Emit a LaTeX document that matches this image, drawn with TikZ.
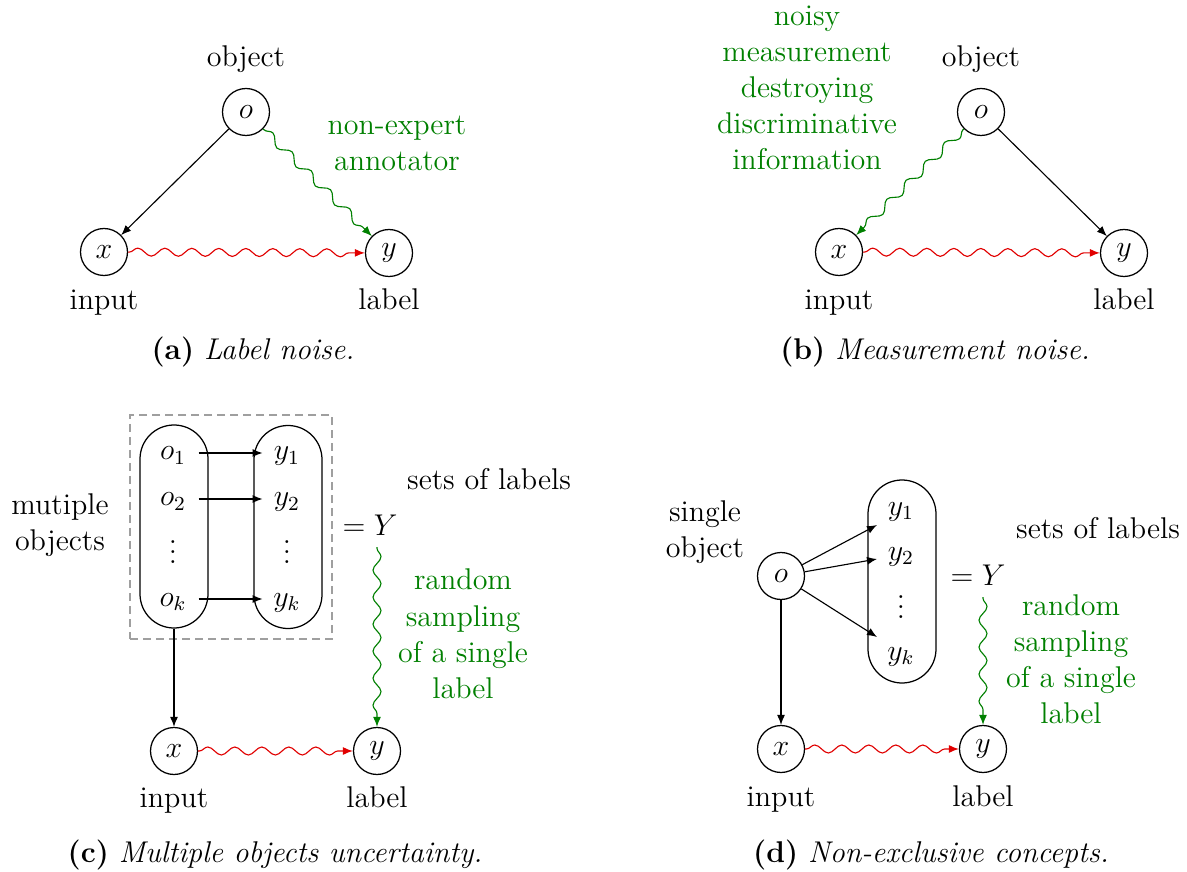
\documentclass[tikz,border=0pt]{standalone}
\usepackage{fontspec}
\usetikzlibrary{decorations.pathmorphing,arrows.meta}
\definecolor{dgreen}{RGB}{0,128,0}
\definecolor{dred}{RGB}{225,0,0}
\tikzset{
  base font/.style={font=\fontsize{12}{14.4}\selectfont},
  var/.style={circle,draw,minimum size=18.8pt,inner sep=0pt,line width=0.5pt,base font},
  txt/.style={base font,inner sep=0pt,anchor=base,align=center},
  gtxt/.style={txt,text=dgreen},
  tip/.style={-{Latex[length=4pt,width=3.2pt]}},
  arr/.style={tip,line width=0.45pt},
  wav/.style={tip,line width=0.45pt,decorate,decoration={snake,segment length=10.8pt,amplitude=1.6pt,pre length=0.5pt,post length=4.5pt}},
  rwav/.style={wav,draw=dred},
  gwav/.style={wav,draw=dgreen},
  rowtxt/.style={base font,inner sep=0pt,text height=8pt,text depth=2.4pt},
  capsule/.style={draw,line width=0.5pt,rounded corners=13.6pt,minimum width=27.2pt,minimum height=81.2pt,inner sep=0pt},
  groupbox/.style={draw=gray!75,dash pattern=on 3.2pt off 2pt,line width=0.5pt,minimum width=80.8pt,minimum height=89.6pt,inner sep=0pt}
}
\begin{document}
\begin{tikzpicture}[x=0.4pt,y=-0.4pt]
\useasboundingbox[fill=white] (0,0) rectangle (1187,872);

% ---------- (a) ----------
\node[var] (oa) at (246,112) {$o$};
\node[var] (xa) at (104,252) {$x$};
\node[var] (ya) at (389,253) {$y$};
\node[txt] (obja) at (246,67) {object};
\node[txt] (ina) at (104,310) {input};
\node[txt] (laba) at (389,310) {label};
\node[gtxt] (annot) at (397,171) {non-expert\\annotator};
\node[txt] (capa) at (253,360) {\textbf{(a)} \textit{Label noise.}};
\draw[arr] (oa) -- (xa);
\draw[gwav] (oa) -- (ya);
\draw[rwav] (xa) -- (ya);

% ---------- (b) ----------
\node[var] (ob) at (981,112) {$o$};
\node[var] (xb) at (839,252) {$x$};
\node[var] (yb) at (1124,253) {$y$};
\node[txt] (objb) at (981,67) {object};
\node[txt] (inb) at (839,310) {input};
\node[txt] (labb) at (1124,310) {label};
\node[gtxt] (meas) at (807,170) {noisy\\measurement\\destroying\\discriminative\\information};
\node[txt] (capb) at (935,360) {\textbf{(b)} \textit{Measurement noise.}};
\draw[gwav] (ob) -- (xb);
\draw[arr] (ob) -- (yb);
\draw[rwav] (xb) -- (yb);

% ---------- (c) ----------
\node[groupbox] (boxc) at (231,527) {};
\node[capsule] (Lc) at (174,526.5) {};
\node[capsule] (Rc) at (288,527) {};
\node[rowtxt,minimum width=20pt] (o1c) at (173,453) {$o_1$};
\node[rowtxt,minimum width=20pt] (o2c) at (173,499) {$o_2$};
\node[base font,inner sep=0pt] (odc) at (173,545) {$\vdots$};
\node[rowtxt,minimum width=20pt] (okc) at (173,599) {$o_k$};
\node[rowtxt,minimum width=19.2pt] (y1c) at (287,453) {$y_1$};
\node[rowtxt,minimum width=19.2pt] (y2c) at (287,499) {$y_2$};
\node[base font,inner sep=0pt] (ydc) at (287,545) {$\vdots$};
\node[rowtxt,minimum width=19.2pt] (ykc) at (287,599) {$y_k$};
\draw[arr] (o1c) -- (y1c);
\draw[arr] (o2c) -- (y2c);
\draw[arr] (okc) -- (ykc);
\node[txt] (multc) at (60,550) {mutiple\\objects};
\node[txt] (setsc) at (489,489) {sets of labels};
\node[txt] (eqc) at (370,535) {$=Y$};
\coordinate (gc) at (377,547);
\node[gtxt] (randc) at (463,698) {random\\sampling\\of a single\\label};
\node[var] (xc) at (174,751) {$x$};
\node[var] (yc) at (377,751) {$y$};
\node[txt] (inc) at (174,807) {input};
\node[txt] (labc) at (377,807) {label};
\node[txt] (capc) at (275,862) {\textbf{(c)} \textit{Multiple objects uncertainty.}};
\draw[arr] (Lc) -- (xc);
\draw[gwav] (gc) -- (yc);
\draw[rwav] (xc) -- (yc);

% ---------- (d) ----------
\node[txt] (singd) at (705,557) {single\\object};
\node[var] (od) at (781,576) {$o$};
\node[capsule] (Rd) at (902,581.5) {};
\node[rowtxt] (y1d) at (901,508) {$y_1$};
\node[rowtxt] (y2d) at (901,553) {$y_2$};
\node[base font,inner sep=0pt] (ydd) at (901,600) {$\vdots$};
\node[rowtxt] (ykd) at (901,653) {$y_k$};
\coordinate (t1) at (877,525);
\coordinate (t2) at (877,559);
\coordinate (tk) at (877,637);
\draw[arr] (od) -- (t1);
\draw[arr] (od) -- (t2);
\draw[arr] (od) -- (tk);
\node[txt] (setsd) at (1098,538) {sets of labels};
\node[txt] (eqd) at (978,585) {$=Y$};
\coordinate (gd) at (983,597);
\node[gtxt] (randd) at (1071,723) {random\\sampling\\of a single\\label};
\node[var] (xd) at (781,749) {$x$};
\node[var] (yd) at (983,749) {$y$};
\node[txt] (ind) at (781,806) {input};
\node[txt] (labd) at (983,806) {label};
\node[txt] (capd) at (931,862) {\textbf{(d)} \textit{Non-exclusive concepts.}};
\draw[arr] (od) -- (xd);
\draw[gwav] (gd) -- (yd);
\draw[rwav] (xd) -- (yd);
\end{tikzpicture}
\end{document}
